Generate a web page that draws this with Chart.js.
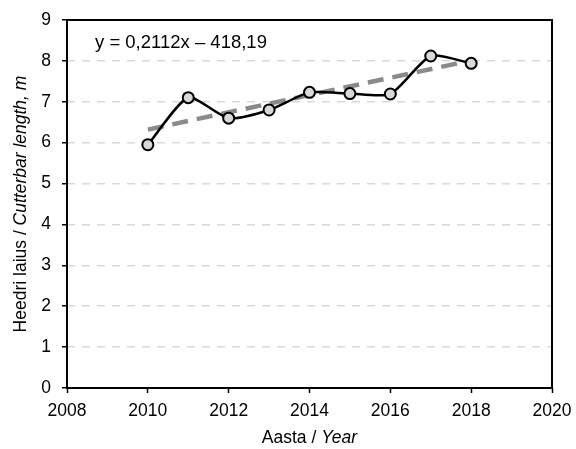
<!DOCTYPE html>
<html>
<head>
<meta charset="utf-8">
<script src="https://cdn.jsdelivr.net/npm/chart.js@4"></script>
<style>
  html, body { margin: 0; padding: 0; background: #fff; }
  #wrap { width: 576px; height: 449px; }
</style>
</head>
<body>
<div id="wrap"><canvas id="lengthChart" width="576" height="449"></canvas></div>
<script>
// andmed / data
const years = [2010, 2011, 2012, 2013, 2014, 2015, 2016, 2017, 2018];
const cutterbar = [5.95, 7.1, 6.6, 6.8, 7.23, 7.2, 7.19, 8.12, 7.94];
const trendYears = [2010, 2018];
const trendValues = [6.32, 8.01];
const yTicks = [0, 1, 2, 3, 4, 5, 6, 7, 8, 9];
const xTicks = [2008, 2010, 2012, 2014, 2016, 2018, 2020];
const equation = 'y = 0,2112x – 418,19';

const FONT = "'Liberation Sans', Arial, sans-serif";
const FS = 17.5;

// raam, võrrand ja telgede pealkirjad (osa kursiivis)
const extras = {
    id: 'extras',
    afterDatasetsDraw(chart) {
        const { ctx, chartArea: a } = chart;
        ctx.save();
        ctx.strokeStyle = '#000';
        ctx.lineWidth = 2;
        ctx.strokeRect(a.left, a.top, a.right - a.left, a.bottom - a.top);
        ctx.restore();
    },
    afterDraw(chart) {
        const { ctx, chartArea: a } = chart;
        ctx.save();
        ctx.fillStyle = '#000';
        ctx.textBaseline = 'middle';

        ctx.font = '18.5px ' + FONT;
        ctx.textAlign = 'left';
        ctx.fillText(equation, a.left + 28, 43);

        // x title
        const xParts = [['Aasta / ', FS + 'px ' + FONT], ['Year', 'italic ' + FS + 'px ' + FONT]];
        drawParts(ctx, xParts, (a.left + a.right) / 2, 438);

        // y title
        ctx.translate(21, (a.top + a.bottom) / 2);
        ctx.rotate(-Math.PI / 2);
        const yParts = [['Heedri laius / ', FS + 'px ' + FONT], ['Cutterbar length, m', 'italic ' + FS + 'px ' + FONT]];
        drawParts(ctx, yParts, 0, 0);
        ctx.restore();
    }
};

function drawParts(ctx, parts, cx, cy) {
    let total = 0;
    parts.forEach(p => { ctx.font = p[1]; total += ctx.measureText(p[0]).width; });
    let x = cx - total / 2;
    ctx.textAlign = 'left';
    parts.forEach(p => {
        ctx.font = p[1];
        ctx.fillText(p[0], x, cy);
        x += ctx.measureText(p[0]).width;
    });
}

new Chart(document.getElementById('lengthChart').getContext('2d'), {
    type: 'line',
    data: {
        datasets: [
            {
                label: 'Heedri laius',
                data: years.map((y, i) => ({ x: y, y: cutterbar[i] })),
                borderColor: '#000',
                borderWidth: 2.5,
                tension: 0.22,
                pointRadius: 5.5,
                pointBackgroundColor: '#d9d9d9',
                pointBorderColor: '#000',
                pointBorderWidth: 2,
                order: 1
            },
            {
                label: 'Trend',
                data: trendYears.map((y, i) => ({ x: y, y: trendValues[i] })),
                borderColor: '#8a8a8a',
                borderWidth: 4.5,
                borderDash: [16, 9],
                pointRadius: 0,
                order: 2
            }
        ]
    },
    options: {
        responsive: false,
        animation: false,
        layout: { padding: { top: 20, right: 24, bottom: 0, left: 0 } },
        plugins: {
            legend: { display: false },
            tooltip: { enabled: false }
        },
        scales: {
            x: {
                type: 'linear',
                min: 2008,
                max: 2020,
                afterBuildTicks: s => { s.ticks = xTicks.map(v => ({ value: v })); },
                afterFit: s => { s.height = 61; s.paddingLeft = 0; s.paddingRight = 0; },
                grid: { drawOnChartArea: false, drawTicks: true, tickLength: 5, tickColor: '#000', tickWidth: 1.5 },
                border: { display: false },
                ticks: { color: '#000', font: { size: FS, family: FONT }, padding: 8, maxRotation: 0,
                         callback: v => String(v) }
            },
            y: {
                min: 0,
                max: 9,
                afterBuildTicks: s => { s.ticks = yTicks.map(v => ({ value: v })); },
                afterFit: s => { s.width = 67; s.paddingTop = 0; s.paddingBottom = 0; },
                grid: { color: '#d9d9d9', lineWidth: 1.5, tickLength: 5,
                        tickColor: '#000', tickWidth: 1.5, tickBorderDash: [] },
                border: { display: false, dash: [8, 7] },
                ticks: { color: '#000', font: { size: FS, family: FONT }, padding: 11 }
            }
        }
    },
    plugins: [extras]
});
</script>
</body>
</html>
